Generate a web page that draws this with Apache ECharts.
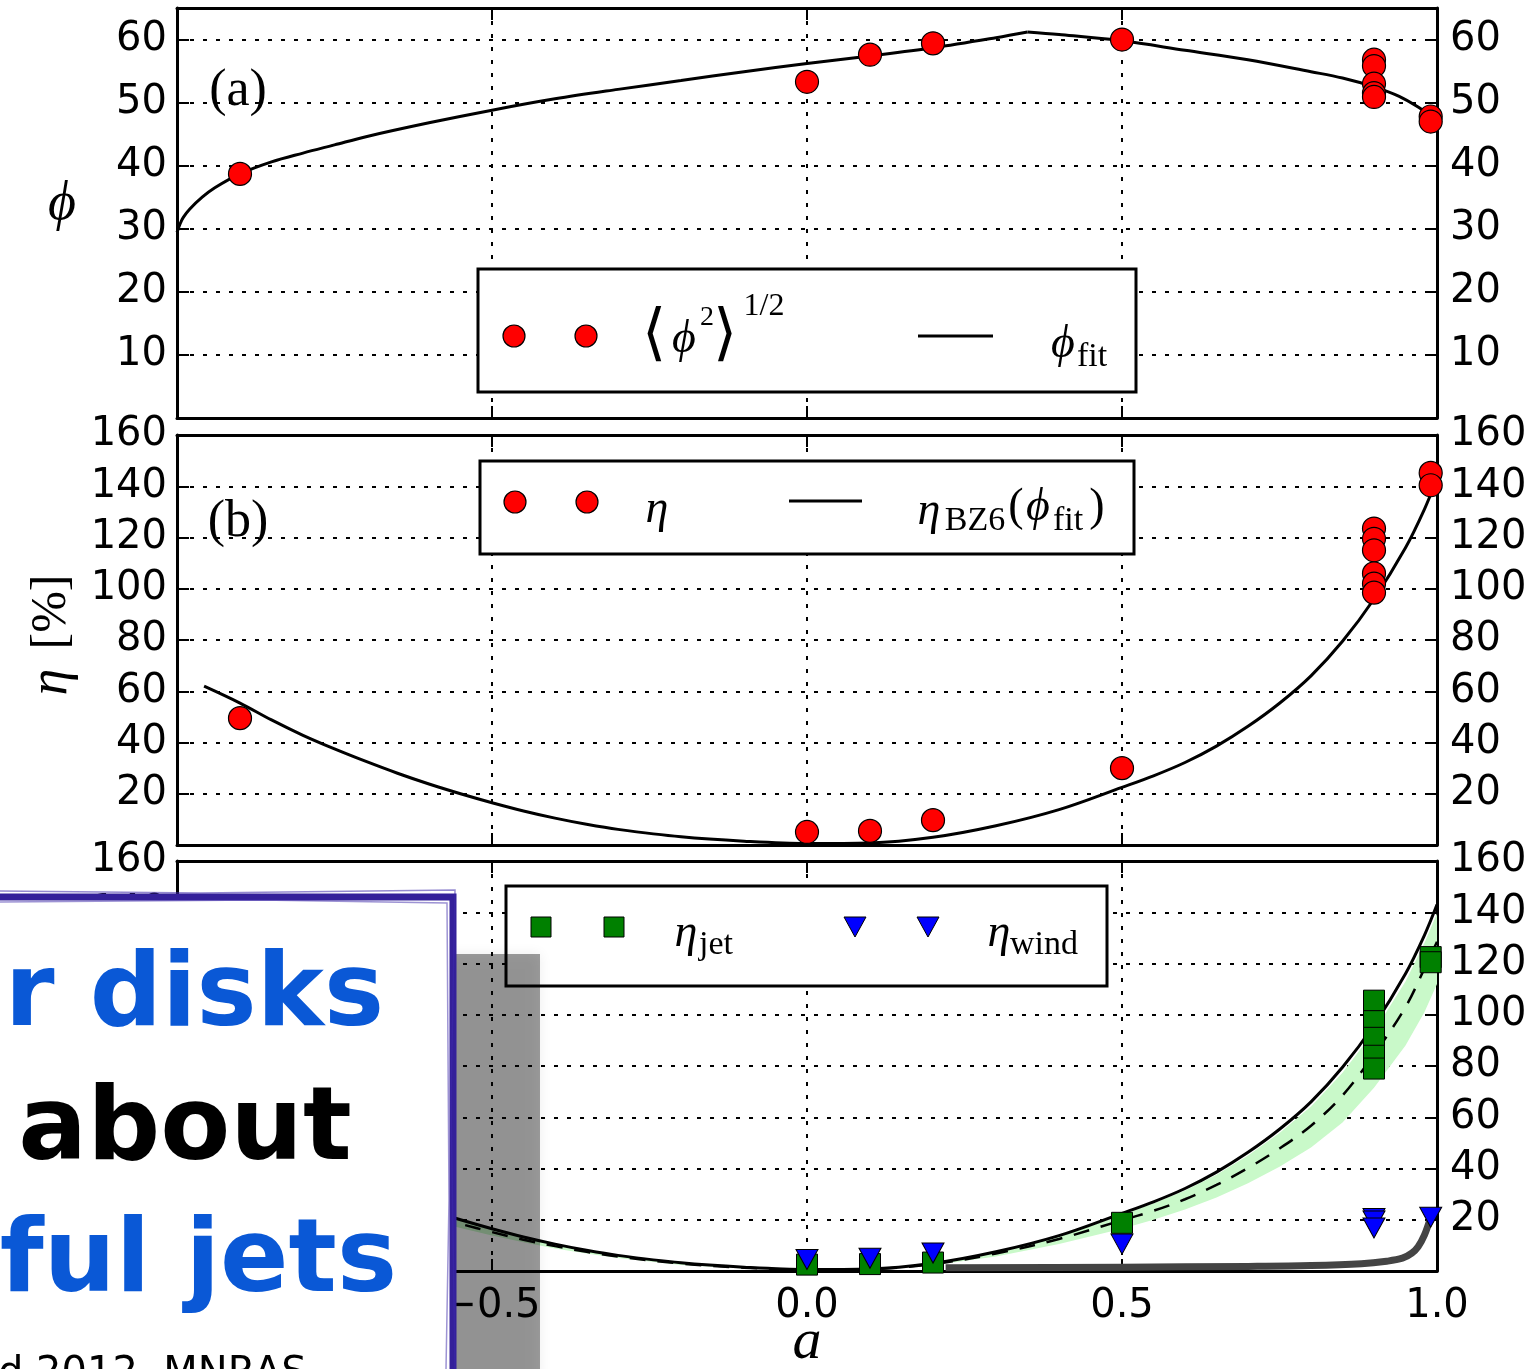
<!DOCTYPE html>
<html><head><meta charset="utf-8">
<script src="https://cdn.jsdelivr.net/npm/echarts@6/dist/echarts.min.js"></script>
<style>html,body{margin:0;padding:0;background:#fff}#c{width:1537px;height:1369px}</style>
</head><body><div id="c"></div><script>
// ---------------- data ----------------
const spinTicks = [-0.5, 0.0, 0.5, 1.0];
const phiTicks = [10, 20, 30, 40, 50, 60];
const etaTicks = [20, 40, 60, 80, 100, 120, 140, 160];

// panel (a): <phi^2>^(1/2)
const phiSpin = [-0.9, 0.0, 0.1, 0.2, 0.5, 0.9, 0.9, 0.9, 0.9, 0.9, 0.99, 0.99];
const phiVals = [38.7, 53.3, 57.6, 59.4, 60.0, 56.8, 55.8, 53.0, 51.5, 50.9, 47.8, 47.0];
// panel (a): phi_fit (rising branch up to the kink, then falling branch)
const phiFitSpinL = [-1.0, -0.995, -0.99, -0.98, -0.96, -0.94, -0.9, -0.85, -0.8, -0.75, -0.7, -0.6, -0.5, -0.4, -0.3, -0.2, -0.1, 0.0, 0.1, 0.2, 0.3, 0.35];
const phiFitValsL = [29.4, 30.8, 31.8, 33.1, 35.0, 36.5, 38.7, 40.6, 42.0, 43.3, 44.6, 46.8, 48.8, 50.6, 52.1, 53.5, 54.9, 56.2, 57.4, 58.7, 60.3, 61.2];
const phiFitSpinR = [0.35, 0.4, 0.5, 0.6, 0.7, 0.8, 0.85, 0.9, 0.94, 0.97, 1.0];
const phiFitValsR = [61.2, 60.8, 59.8, 58.3, 56.8, 54.9, 53.9, 52.5, 51.0, 49.3, 47.2];

// panel (b): eta
const etaSpin = [-0.9, 0.0, 0.1, 0.2, 0.5, 0.9, 0.9, 0.9, 0.9, 0.9, 0.9, 0.99, 0.99];
const etaVals = [49.5, 5.1, 5.5, 9.7, 30.0, 123.5, 119.5, 115.0, 106.0, 102.0, 98.5, 145.2, 140.4];
// panel (b)/(c): eta_BZ6(phi_fit), dashed curve and shaded band
const fitSpin = [-0.957, -0.9, -0.85, -0.8, -0.75, -0.7, -0.65, -0.6, -0.55, -0.5, -0.45, -0.4, -0.35, -0.3, -0.2, -0.1, 0.0, 0.1, 0.2, 0.3, 0.4, 0.5, 0.55, 0.6, 0.65, 0.7, 0.75, 0.8, 0.85, 0.9, 0.95, 0.98, 1.0];
const etaBZ6 = [62, 55.4, 48.8, 42.8, 37.5, 32.6, 28.0, 23.8, 20.0, 16.5, 13.3, 10.5, 8.1, 6.1, 3.2, 1.5, 0.6, 0.8, 3.0, 7.5, 13.8, 22.5, 27.0, 32.2, 38.6, 46.3, 55.3, 66.0, 79.5, 96, 116, 131, 143];
const etaDashed = [57, 51, 45, 39.4, 34.5, 30, 25.8, 21.9, 18.4, 15.2, 12.2, 9.7, 7.5, 5.6, 2.9, 1.3, 0.5, 0.7, 2.7, 6.8, 12.5, 19.8, 23.5, 28, 33.6, 40.2, 47.8, 56.7, 68.5, 84.5, 103, 118, 128.5];
const bandLower = [52, 46.5, 41, 36, 31.5, 27.4, 23.5, 20, 16.8, 13.9, 11.2, 8.8, 6.8, 5.1, 2.3, 1, 0.4, 0.6, 2.2, 5.7, 10.5, 16.5, 20, 24, 28.7, 34.2, 40.7, 48.2, 58, 71.5, 88, 101, 112];
const bandUpper = [61, 54.3, 47.8, 41.9, 36.8, 31.9, 27.4, 23.3, 19.6, 16.2, 13, 10.3, 7.9, 6, 3.1, 1.5, 0.6, 0.8, 2.9, 7.3, 13.4, 21.9, 26.3, 31.4, 37.6, 45.1, 53.9, 64.2, 77.4, 93.5, 113, 128, 139.5];

// panel (c): eta_jet, eta_wind
const jetSpin = [0.0, 0.1, 0.2, 0.5, 0.9, 0.9, 0.9, 0.9, 0.9, 0.99, 0.99];
const jetVals = [2.5, 2.7, 3.3, 18.8, 105.5, 97.5, 91.0, 84.0, 79.0, 122.5, 120.5];
const windSpin = [0.0, 0.1, 0.2, 0.5, 0.9, 0.9, 0.9, 0.99];
const windVals = [4.5, 5.0, 7.0, 10.5, 20.5, 19.5, 16.8, 21.0];
// panel (c): thick grey curve
const greySpin = [0.22, 0.5, 0.7, 0.8, 0.88, 0.92, 0.945, 0.96, 0.97, 0.98, 0.99];
const greyVals = [1.3, 1.5, 1.8, 2.1, 2.8, 3.8, 5.0, 7.0, 9.5, 14.0, 21.0];

// ---------------- chart ----------------
const pairs = (xs, ys) => xs.map((x, i) => [x, ys[i]]);
const chart = echarts.init(document.getElementById('c'), null, {renderer: 'canvas'});

const GRID_L = 177, GRID_W = 1260, GRID_H = 410;
const gridTops = [8, 435, 861];
const dotted = {color: '#000', width: 2, type: [4, 9]};
const frame = {show: true, onZero: false, lineStyle: {color: '#000', width: 3}};
const tick = {show: true, inside: true, length: 12, lineStyle: {color: '#000', width: 2}};
const lblFont = {color: '#000', fontFamily: 'DejaVu Sans', fontSize: 40};
const fmtSpin = v => {
  if (!spinTicks.some(t => Math.abs(t - v) < 1e-9)) return '';
  return (v < 0 ? '\u2212' : '') + Math.abs(v).toFixed(1);
};

const xAxes = [], yAxes = [];
[0, 1, 2].forEach(gi => {
  xAxes.push({type: 'value', gridIndex: gi, position: 'bottom', min: -1, max: 1, interval: 0.5,
    axisLine: frame, axisTick: tick,
    axisLabel: Object.assign({show: gi === 2, margin: 16, formatter: fmtSpin}, lblFont),
    splitLine: {show: true, showMinLine: false, showMaxLine: false, lineStyle: dotted}});
  xAxes.push({type: 'value', gridIndex: gi, position: 'top', min: -1, max: 1, interval: 0.5,
    axisLine: frame, axisTick: tick, axisLabel: {show: false}, splitLine: {show: false}});
  const max = gi === 0 ? 65 : 160, interval = gi === 0 ? 10 : 20, ticks = gi === 0 ? phiTicks : etaTicks;
  const fmt = v => ticks.includes(v) ? String(v) : '';
  yAxes.push({type: 'value', gridIndex: gi, position: 'left', min: 0, max, interval,
    axisLine: frame, axisTick: tick,
    axisLabel: Object.assign({margin: 10, formatter: fmt}, lblFont),
    splitLine: {show: true, showMinLine: false, showMaxLine: false, lineStyle: dotted}});
  yAxes.push({type: 'value', gridIndex: gi, position: 'right', min: 0, max, interval,
    axisLine: frame, axisTick: tick,
    axisLabel: Object.assign({margin: 13, formatter: fmt}, lblFont),
    splitLine: {show: false}});
});

const lineS = (xi, yi, xs, ys, extra) => Object.assign({
  type: 'line', xAxisIndex: xi, yAxisIndex: yi, data: pairs(xs, ys), showSymbol: false,
  symbol: 'none', smooth: 0.35, clip: true, animation: false, z: 3,
  lineStyle: {color: '#000', width: 3}}, extra || {});
const redDots = (xi, yi, xs, ys) => ({type: 'scatter', xAxisIndex: xi, yAxisIndex: yi,
  data: pairs(xs, ys), symbol: 'circle', symbolSize: 23, z: 5, animation: false,
  itemStyle: {color: '#ff0000', borderColor: '#000', borderWidth: 1.2, opacity: 1}});

const series = [
  lineS(0, 0, phiFitSpinL, phiFitValsL),
  lineS(0, 0, phiFitSpinR, phiFitValsR),
  redDots(0, 0, phiSpin, phiVals),
  lineS(2, 2, fitSpin, etaBZ6),
  redDots(2, 2, etaSpin, etaVals),
  {type: 'custom', xAxisIndex: 4, yAxisIndex: 4, z: 2, animation: false, clip: true,
    data: pairs(fitSpin, bandUpper),
    renderItem: (params, api) => {
      if (params.dataIndex !== 0) return null;
      const pts = [];
      for (let i = 0; i < fitSpin.length; i++) pts.push(api.coord([fitSpin[i], bandUpper[i]]));
      for (let i = fitSpin.length - 1; i >= 0; i--) pts.push(api.coord([fitSpin[i], bandLower[i]]));
      return {type: 'polygon', shape: {points: pts}, style: {fill: '#c9f9c9', stroke: null}};
    }},
  lineS(4, 4, fitSpin, etaDashed, {lineStyle: {color: '#000', width: 2.5, type: [16, 12]}}),
  lineS(4, 4, fitSpin, etaBZ6),
  lineS(4, 4, greySpin, greyVals, {lineStyle: {color: '#444444', width: 7, cap: 'butt', join: 'round'}}),
  {type: 'scatter', xAxisIndex: 4, yAxisIndex: 4, data: pairs(jetSpin, jetVals), symbol: 'rect',
    symbolSize: 21, z: 5, animation: false,
    itemStyle: {color: '#008000', borderColor: '#000', borderWidth: 1, opacity: 1}},
  {type: 'scatter', xAxisIndex: 4, yAxisIndex: 4, data: pairs(windSpin, windVals), symbol: 'triangle',
    symbolRotate: 180, symbolSize: [22, 20], z: 6, animation: false,
    itemStyle: {color: '#0000ff', borderColor: '#000', borderWidth: 1, opacity: 1}}
];

// ---------------- graphic helpers ----------------
const SERIF = '"Liberation Serif", "DejaVu Serif", serif';
const T = (text, x, y, size, opts) => Object.assign({
  type: 'text', x, y, z: 100, silent: true,
  style: Object.assign({text, fill: '#000', font: size + 'px ' + SERIF,
    align: 'center', verticalAlign: 'middle', textAlign: 'center', textVerticalAlign: 'middle'}, (opts && opts.style) || {})
}, (opts && opts.el) || {});
const IT = (text, x, y, size, el) => T(text, x, y, size, {style: {font: 'italic ' + size + 'px ' + SERIF}, el});
const box = (x, y, w, h) => ({type: 'rect', z: 99, silent: true, shape: {x, y, width: w, height: h},
  style: {fill: '#fff', stroke: '#000', lineWidth: 3}});
const dot = (cx, cy) => ({type: 'circle', z: 100, silent: true, shape: {cx, cy, r: 11},
  style: {fill: '#ff0000', stroke: '#000', lineWidth: 1.2}});
const sq = (cx, cy) => ({type: 'rect', z: 100, silent: true, shape: {x: cx - 10, y: cy - 10, width: 20, height: 20},
  style: {fill: '#008000', stroke: '#000', lineWidth: 1}});
const tri = (cx, cy) => ({type: 'polygon', z: 100, silent: true, shape: {points: [[cx - 11, cy - 10], [cx + 11, cy - 10], [cx, cy + 10]]},
  style: {fill: '#0000ff', stroke: '#000', lineWidth: 1}});
const seg = (x1, x2, y) => ({type: 'line', z: 100, silent: true, shape: {x1, y1: y, x2, y2: y},
  style: {stroke: '#000', lineWidth: 3}});

const PURPLE = '#34209a';
const BOLD = 'bold 101px "DejaVu Sans"';
const TOP = {z: 205};
const graphics = [
  // axis titles and panel tags
  IT('\u03d5', 62, 205, 54),
  IT('\u03b7', 52, 682, 54, {rotation: Math.PI / 2}),
  T('[%]', 52, 612, 50, {el: {rotation: Math.PI / 2}}),
  T('(a)', 238, 91, 52),
  T('(b)', 238, 522, 52),
  IT('a', 807, 1343, 58),
  // legend (a)
  box(478, 269, 658, 123), dot(514, 336), dot(586, 336),
  T('\u27e8', 654, 337, 62), IT('\u03d5', 684, 340, 46), T('2', 707, 318, 28), T('\u27e9', 725, 337, 62),
  T('1/2', 764, 307, 32),
  seg(918, 993, 336),
  IT('\u03d5', 1063, 345, 46), T('fit', 1092, 357, 34),
  // legend (b)
  box(480, 461, 654, 93), dot(515, 502), dot(587, 502),
  IT('\u03b7', 657, 510, 46),
  seg(789, 862, 501),
  IT('\u03b7', 929, 512, 46), T('BZ6', 975, 521, 34), T('(', 1016, 508, 46), IT('\u03d5', 1038, 508, 46),
  T('fit', 1068, 521, 34), T(')', 1097, 508, 46),
  // legend (c)
  box(506, 886, 601, 100), sq(541, 927), sq(614, 927), tri(855, 927), tri(928, 927),
  IT('\u03b7', 686, 934, 46), T('jet', 716, 945, 34),
  IT('\u03b7', 999, 934, 46), T('wind', 1044, 945, 34),
  // slide overlay: shadow, white card, sketchy border, text
  {type: 'rect', z: 200, silent: true, shape: {x: 430, y: 954, width: 110, height: 460},
    style: {fill: 'rgba(0,0,0,0.38)', shadowBlur: 12, shadowColor: 'rgba(0,0,0,0.2)'}},
  {type: 'rect', z: 201, silent: true, shape: {x: -30, y: 897, width: 483, height: 520},
    style: {fill: '#fff', stroke: PURPLE, lineWidth: 7}},
  {type: 'polyline', z: 202, silent: true, shape: {points: [[0, 891], [200, 893], [455, 890], [451, 1100], [455, 1369]]},
    style: {stroke: 'rgba(60,40,170,0.55)', lineWidth: 1.5, fill: null}},
  {type: 'polyline', z: 202, silent: true, shape: {points: [[0, 902], [260, 900], [447, 903], [449, 1200], [446, 1369]]},
    style: {stroke: 'rgba(60,40,170,0.5)', lineWidth: 1.5, fill: null}},
  T('er disks', 384, 999, 101, {style: {font: BOLD, fill: '#0a58d6', align: 'right', textAlign: 'right'}, el: TOP}),
  T('about', 185, 1132, 102, {style: {font: 'bold 102px "DejaVu Sans"', fill: '#000'}, el: TOP}),
  T('ful jets', 397, 1265, 101, {style: {font: BOLD, fill: '#0a58d6', align: 'right', textAlign: 'right'}, el: TOP}),
  T('d 2012, MNRAS', -2, 1375, 40, {style: {font: '40px "DejaVu Sans"', align: 'left', textAlign: 'left'}, el: TOP})
];

chart.setOption({
  animation: false,
  backgroundColor: '#fff',
  grid: gridTops.map(t => ({left: GRID_L, top: t, width: GRID_W, height: GRID_H, containLabel: false, outerBoundsMode: 'none', show: false})),
  xAxis: xAxes,
  yAxis: yAxes,
  series,
  graphic: {elements: graphics}
});
</script></body></html>
